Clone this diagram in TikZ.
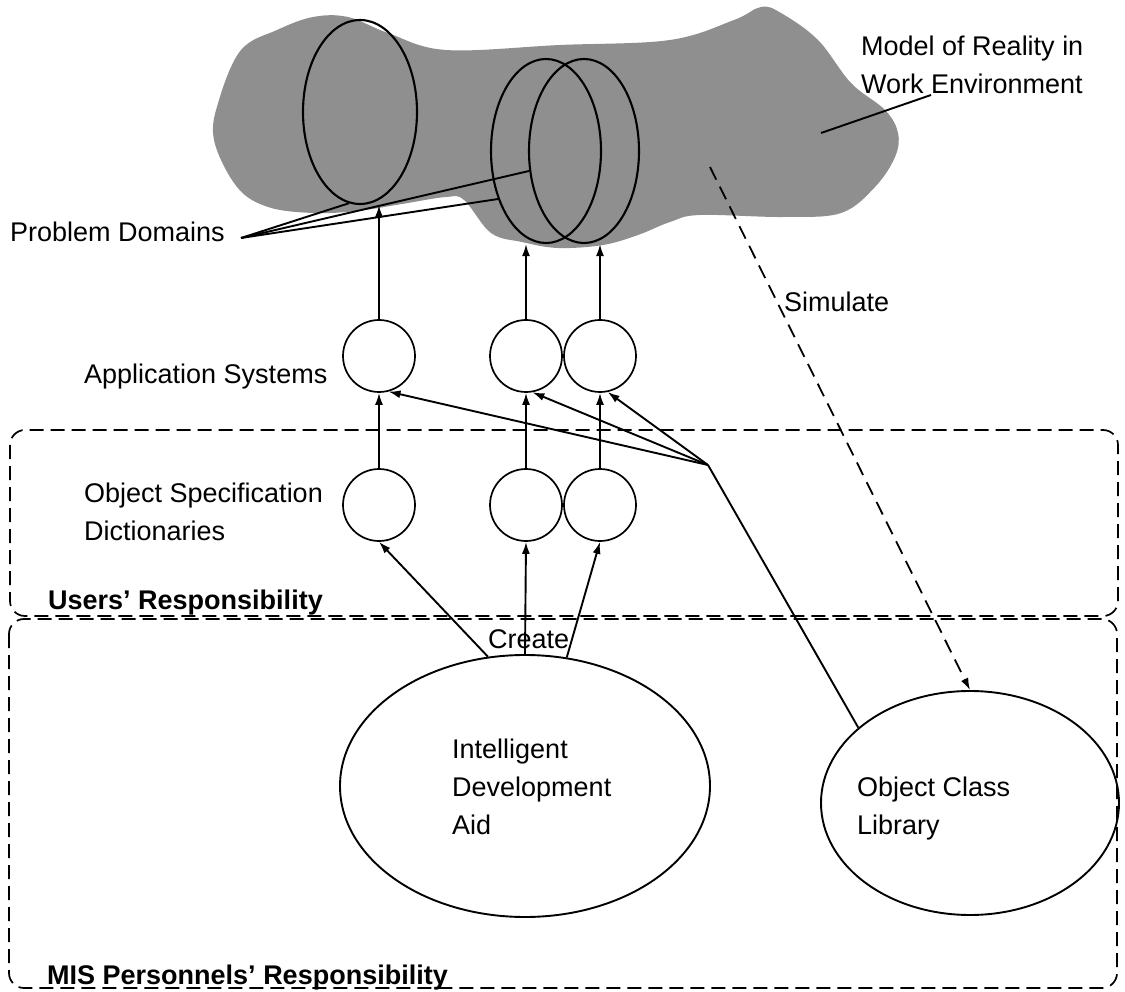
\documentclass[tikz,border=0pt]{standalone}
\usepackage{fontspec}
\setmainfont{Liberation Sans}
\usetikzlibrary{shapes.geometric,arrows.meta}
\begin{document}
\begin{tikzpicture}[x=1pt,y=-1pt,
  every node/.style={font=\fontsize{27}{38}\selectfont},
  ln/.style={line width=1.9pt},
  arr/.style={ln,-{Latex[length=12pt,width=8pt]}},
  circ/.style={circle,draw,line width=1.7pt,minimum size=72pt,inner sep=0pt},
  ell/.style={ellipse,draw,line width=2.1pt,inner sep=0pt},
  region/.style={draw,line width=1.7pt,dash pattern=on 14pt off 7pt,rounded corners=15pt},
  lbl/.style={anchor=base west,inner sep=0pt},
  mlbl/.style={anchor=north west,align=left,inner sep=0pt},
  bold/.style={lbl,font=\fontsize{27}{38}\selectfont\bfseries},
  simdash/.style={line width=1.8pt,dash pattern=on 14pt off 8pt}
]
\useasboundingbox (0,0) rectangle (1125,992);

% cloud (model of reality)
\fill[black!44] plot[smooth cycle, tension=0.6] coordinates {
 (214,140) (219,100) (241,50) (277,30) (313,17) (348,17) (388,33) (446,50)
 (560,45) (670,40) (734,20) (761,7) (781,13) (818,40) (851,83) (885,110)
 (898,133) (895,157) (875,187) (841,213) (784,217) (700,215) (670,222)
 (638,235) (603,245) (558,248) (522,242) (491,233) (464,200) (446,197)
 (402,204) (357,211) (313,213) (268,207) (237,187)};

% problem domains
\node[ell,minimum width=114pt,minimum height=184pt] (pd1) at (360,112) {};
\node[ell,minimum width=110pt,minimum height=184pt] (pd2) at (546,151) {};
\node[ell,minimum width=110pt,minimum height=184pt] (pd3) at (584,151) {};

% labels
\node[mlbl] (mor) at (861,36) {Model of Reality in\\Work Environment};
\coordinate (m1) at (931,95);
\coordinate (m2) at (821,133);
\draw[ln] (m1) -- (m2);

\node[lbl] (pdl) at (10,242) {Problem Domains};
\coordinate (pdp) at (241,238);
\draw[ln] (pdp) -- (pd1.-97);
\draw[ln] (pdp) -- (pd2.-135);
\draw[ln] (pdp) -- (pd3.-160);

% regions
\draw[region] (10,430) rectangle (1118,616);
\draw[region] (9,619) rectangle (1117,988);
\node[bold] (ur) at (48,609) {Users’ Responsibility};
\node[bold] (mr) at (47,984) {MIS Personnels’ Responsibility};

% application systems and dictionaries
\node[circ] (app1) at (379,356) {};
\node[circ] (app2) at (526,356) {};
\node[circ] (app3) at (600,356) {};
\node[circ] (dict1) at (379,505) {};
\node[circ] (dict2) at (526,505) {};
\node[circ] (dict3) at (600,505) {};
\node[lbl] (asl) at (84,384) {Application Systems};
\node[mlbl] (osl) at (84,483) {Object Specification\\Dictionaries};

% big ellipses
\node[ell,line width=1.9pt,minimum width=370pt,minimum height=262pt] (ida) at (525,786) {};
\node[mlbl] (idat) at (452,739) {Intelligent\\Development\\Aid};
\node[ell,line width=1.9pt,minimum width=298pt,minimum height=224pt] (ocl) at (970,803) {};
\node[mlbl] (oclt) at (857,777) {Object Class\\Library};

% arrows up
\draw[arr] (app1.north) -- (app1.north |- pd1.south);
\draw[arr] (app2.north) -- (app2.north |- pd2.south);
\draw[arr] (app3.north) -- (app3.north |- pd3.south);
\draw[arr] (dict1.north) -- (app1.south);
\draw[arr] (dict2.north) -- (app2.south);
\draw[arr] (dict3.north) -- (app3.south);

% create
\draw[arr] (ida.106) -- (dict1.south);
\draw[arr] (ida.north) -- (dict2.south);
\draw[arr] (ida.72) -- (dict3.south);
\node[lbl] (cr) at (488,648) {Create};

% object class library fan
\coordinate (fan) at (708,465);
\draw[ln] (ocl.146) -- (fan);
\draw[arr] (fan) -- (app1.-75);
\draw[arr] (fan) -- (app2.-80);
\draw[arr] (fan) -- (app3.-78);

% simulate
\coordinate (simsrc) at (710,167);
\draw[simdash,-{Latex[length=12pt,width=8pt]}] (simsrc) -- (ocl.north);
\node[lbl] (sim) at (784,312) {Simulate};
\end{tikzpicture}
\end{document}
